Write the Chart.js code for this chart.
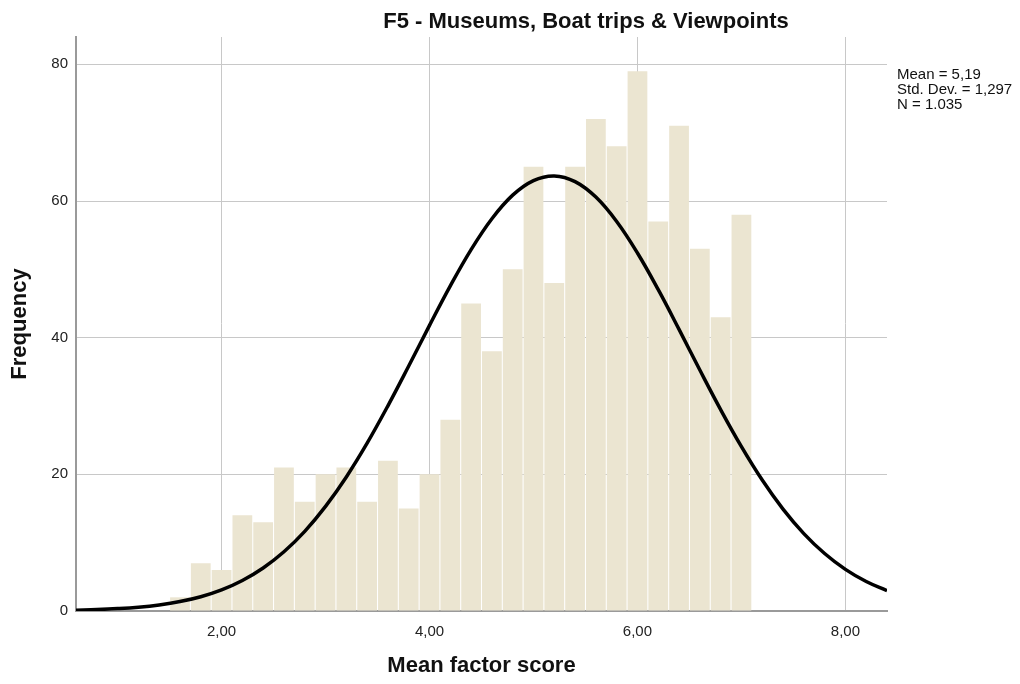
<!DOCTYPE html>
<html>
<head>
<meta charset="utf-8">
<title>F5 - Museums, Boat trips & Viewpoints</title>
<script src="https://cdn.jsdelivr.net/npm/chart.js@4/dist/chart.umd.min.js"></script>
<style>
  html, body { margin: 0; padding: 0; background: #fff; }
  #wrap { width: 1020px; height: 684px; }
</style>
</head>
<body>
<div id="wrap"><canvas id="mycanvas" width="1020" height="684"></canvas></div>
<script>
// histogram bins (bin centres, width 0.2) and counts
var binCentres = [1.6, 1.8, 2.0, 2.2, 2.4, 2.6, 2.8, 3.0, 3.2, 3.4, 3.6, 3.8, 4.0, 4.2,
                  4.4, 4.6, 4.8, 5.0, 5.2, 5.4, 5.6, 5.8, 6.0, 6.2, 6.4, 6.6, 6.8, 7.0];
var counts = [2, 7, 6, 14, 13, 21, 16, 20, 21, 16, 22, 15, 20, 28,
              45, 38, 50, 65, 48, 65, 72, 68, 79, 57, 71, 53, 43, 58];

// normal curve
var curveX = [0.6, 0.8, 1.0, 1.2, 1.4, 1.6, 1.8, 2.0, 2.2, 2.4, 2.6, 2.8, 3.0, 3.2, 3.4, 3.6, 3.8, 4.0, 4.2, 4.4,
              4.6, 4.8, 5.0, 5.2, 5.4, 5.6, 5.8, 6.0, 6.2, 6.4, 6.6, 6.8, 7.0, 7.2, 7.4, 7.6, 7.8, 8.0, 8.2, 8.4];
var curveY = [0.12, 0.21, 0.35, 0.56, 0.89, 1.38, 2.09, 3.09, 4.47, 6.30, 8.67, 11.66, 15.31, 19.62, 24.56, 30.03, 35.85, 41.80, 47.58, 52.89,
              57.41, 60.86, 62.99, 63.67, 62.84, 60.57, 57.00, 52.39, 47.02, 41.21, 35.26, 29.47, 24.05, 19.16, 14.91, 11.33, 8.41, 6.09, 4.31, 2.98];

var xTicks = [2, 4, 6, 8];
var yTicks = [0, 20, 40, 60, 80];
var statsLines = ['Mean = 5,19', 'Std. Dev. = 1,297', 'N = 1.035'];
var chartTitle = 'F5 - Museums, Boat trips & Viewpoints';

var barData = [];
for (var i in binCentres) {
	barData.push({x: binCentres[i], y: counts[i]});
}
var lineData = [];
for (var j in curveX) {
	lineData.push({x: curveX[j], y: curveY[j]});
}

var fontFamily = "'Liberation Sans', Arial, sans-serif";

// title + stats box drawn as text on the canvas
var extraText = {
	id: 'extraText',
	afterDraw: function(chart) {
		var ctx = chart.ctx;
		ctx.save();
		ctx.fillStyle = '#111';
		ctx.font = 'bold 22px ' + fontFamily;
		ctx.textAlign = 'center';
		ctx.textBaseline = 'alphabetic';
		ctx.fillText(chartTitle, 586, 28);
		ctx.font = '15px ' + fontFamily;
		ctx.textAlign = 'left';
		for (var k = 0; k < statsLines.length; k++) {
			ctx.fillText(statsLines[k], 897, 79 + k * 14.8);
		}
		ctx.restore();
	}
};

var ctx = document.getElementById('mycanvas');

var histChart = new Chart(ctx, {
	type: 'bar',
	data: {
		datasets: [
			{
				type: 'line',
				label: 'Normal',
				data: lineData,
				borderColor: '#000',
				borderWidth: 3.5,
				pointRadius: 0,
				tension: 0.4,
				fill: false,
				order: 0
			},
			{
				type: 'bar',
				label: 'Frequency',
				data: barData,
				backgroundColor: '#ebe5d1',
				borderWidth: 0,
				barPercentage: 0.95,
				categoryPercentage: 1,
				order: 1
			}
		]
	},
	options: {
		responsive: false,
		animation: false,
		devicePixelRatio: 1,
		layout: { padding: { top: 37, right: 133, left: 0, bottom: 0 } },
		plugins: {
			legend: { display: false },
			tooltip: { enabled: false },
			title: { display: false }
		},
		scales: {
			x: {
				type: 'linear',
				min: 0.6,
				max: 8.4,
				offset: false,
				afterFit: function(scale) { scale.height = 73; },
				afterBuildTicks: function(scale) {
					scale.ticks = xTicks.map(function(v) { return {value: v}; });
				},
				grid: { color: '#c8c8c8', lineWidth: 1, drawTicks: false, offset: false },
				border: { color: '#9a9a9a', width: 2 },
				ticks: {
					padding: 12,
					color: '#222',
					font: { family: fontFamily, size: 15 },
					callback: function(v) { return v.toFixed(2).replace('.', ','); }
				},
				title: {
					display: true,
					text: 'Mean factor score',
					color: '#111',
					font: { family: fontFamily, size: 22, weight: 'bold', lineHeight: 1 },
					padding: { top: 0, bottom: 7 }
				}
			},
			y: {
				min: 0,
				max: 84,
				afterFit: function(scale) { scale.width = 76; },
				afterBuildTicks: function(scale) {
					scale.ticks = yTicks.map(function(v) { return {value: v}; });
				},
				grid: { color: '#c8c8c8', lineWidth: 1, drawTicks: false },
				border: { color: '#9a9a9a', width: 2 },
				ticks: {
					padding: 8,
					color: '#222',
					font: { family: fontFamily, size: 15 }
				},
				title: {
					display: true,
					text: 'Frequency',
					color: '#111',
					font: { family: fontFamily, size: 22, weight: 'bold', lineHeight: 1 },
					padding: { top: 9, bottom: 0 }
				}
			}
		}
	},
	plugins: [extraText]
});
</script>
</body>
</html>
